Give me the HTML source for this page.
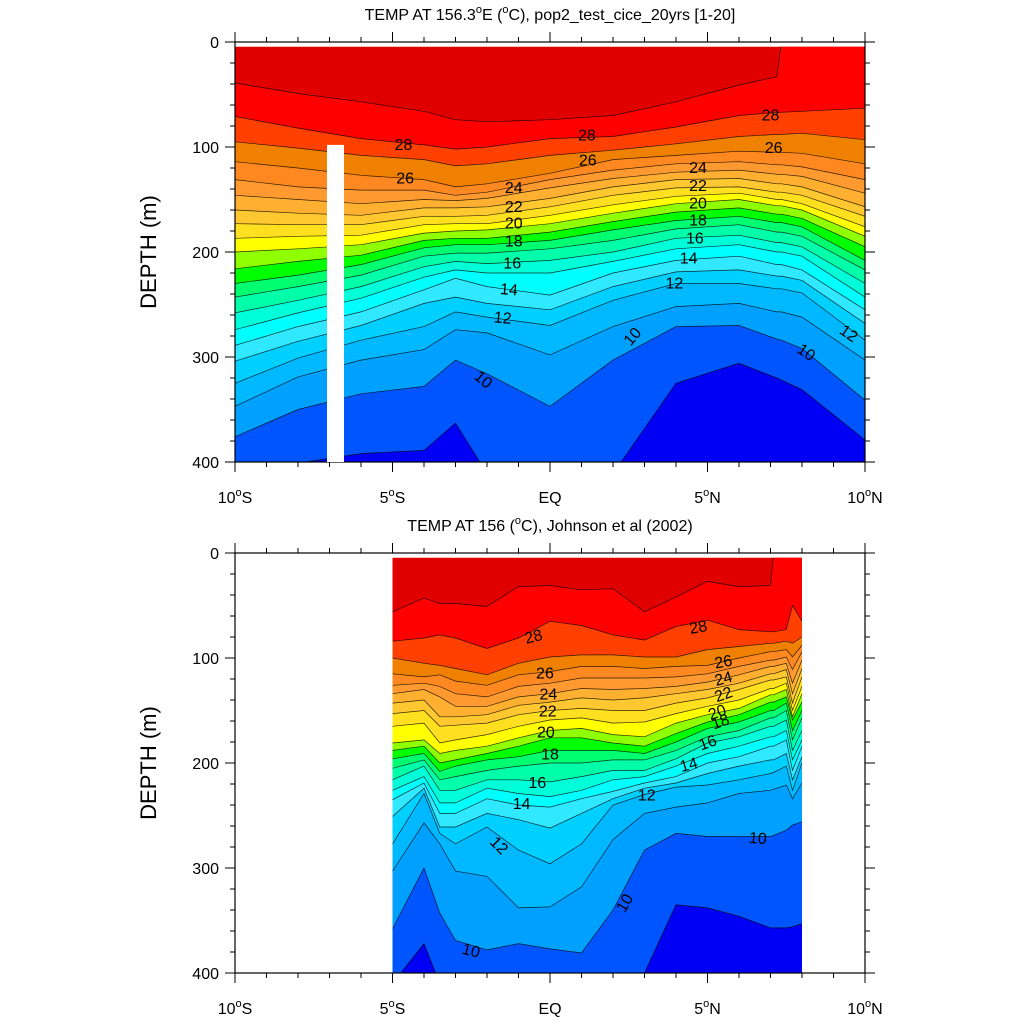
<!DOCTYPE html>
<html><head><meta charset="utf-8"><style>
html,body{margin:0;padding:0;background:#fff;}
svg{display:block;font-family:"Liberation Sans",Arial,sans-serif;}
</style></head><body>
<svg id="chart" width="1024" height="1024" viewBox="0 0 1024 1024" xmlns="http://www.w3.org/2000/svg">
<defs>
<clipPath id="clipTop"><rect id="clipTopRect" x="0" y="0" width="0" height="0"/></clipPath>
<clipPath id="clipBot"><rect id="clipBotRect" x="0" y="0" width="0" height="0"/></clipPath>
</defs>
<g id="layer"></g>
</svg>
<script>
// ---------- DATA ----------
const levels = [29,28,27,26,25,24,23,22,21,20,19,18,17,16,15,14,13,12,11,10,9];
const colorAbove29 = "#e00000";
const bandBelowColors = ["#ff0000","#ff4000","#f08000","#ff8820","#ff9a30","#ffb030","#ffc830","#ffe020","#ffff00","#90ff00","#00ff00","#00ff70","#00ffa8","#00ffd8","#00ffff","#30e8ff","#00d0ff","#00b8ff","#00a0ff","#0055ff","#0000f5"];

// top panel: isotherm depths (m) for levels 29..9 at each latitude
const topLats = [-10,-8,-6,-4,-3,-2,0,2,4,6,7.2,7.35,8,10];
const topM10 = [39,71,95,114,131,146,160,173,187,200,216,230,243,258,274,289,304,325,347,376,411];
const topM8  = [49,82,101,120,138,150,163,174,185,197,209,222,233,246,258,271,285,301,319,350,401];
const topM6  = [57,92,108,127,141,154,165,174,184,193,203,212,222,233,244,257,270,284,303,335,392];
const topM4  = [66,98,112,131,141,150,158,166,174,182,189,196,204,214,224,236,249,271,293,328,389];
const topM3  = [74,102,118,138,146,151,158,166,173,180,187,193,201,209,217,225,243,257,274,303,363];
const topM2  = [76,100,116,135,143,149,157,165,173,179,187,193,201,211,220,233,249,262,277,316,411];
const topEQ  = [74,92,108,125,131,139,149,157,165,173,181,189,197,208,220,241,255,270,298,347,411];
const topP2  = [70,90,103,112,122,130,138,146,155,163,171,179,189,200,209,220,233,246,271,303,411];
const topP4  = [57,81,97,108,116,124,131,139,147,154,162,170,178,187,197,208,219,230,252,271,325];
const topP6  = [41,70,90,104,114,122,130,138,144,150,158,166,174,184,193,204,217,230,249,270,306];
const topP72 = [33,67,88,105,117,126,135,143,150,156,164,172,181,191,200,212,223,235,257,283,320];
const topP735= [0,67,88,105,117,126,135,143,150,156,164,172,181,191,200,212,223,235,257,284,322];
const topP8  = [0,66,87,106,119,128,138,146,154,160,168,176,185,195,204,217,227,239,262,292,331];
const topP10 = [0,63,93,116,131,144,157,166,176,185,195,208,217,230,243,255,268,284,303,341,379];
const topCols = [topM10,topM8,topM6,topM4,topM3,topM2,topEQ,topP2,topP4,topP6,topP72,topP735,topP8,topP10];

// bottom panel (observations)
const botLats = [-5,-4,-3.5,-3,-2,-1,0,1,2,3,4,5,6,7,7.1,7.5,7.7,8];
const botM5  = [56,84,100,115,126,134,143,153,165,181,188,196,205,216,226,235,251,277,303,358,410];
const botM4  = [43,81,105,118,124,130,140,150,162,178,184,191,197,203,213,219,224,229,257,300,372];
const botM35 = [48,78,107,116,127,137,156,165,181,191,200,208,216,226,238,248,261,267,277,343,410];
const botM3  = [48,81,110,122,134,146,156,164,178,188,197,203,213,226,238,248,261,277,303,369,410];
const botM2  = [51,91,116,126,137,146,154,162,173,184,191,197,207,216,224,234,248,261,308,378,410];
const botM1  = [32,81,105,116,127,137,145,154,165,176,184,194,203,216,229,240,254,283,338,372,410];
const botEQ  = [31,65,99,113,124,134,142,150,159,169,176,188,200,218,232,242,262,296,337,377,410];
const botP1  = [35,69,97,108,119,129,138,148,157,167,176,188,200,213,226,234,248,277,318,381,410];
const botP2  = [34,78,97,108,119,130,140,150,162,173,181,188,197,207,216,227,234,240,273,340,410];
const botP3  = [56,83,99,110,119,129,138,150,161,175,184,191,197,207,213,219,224,230,248,283,400];
const botP4  = [42,70,99,108,118,127,134,143,153,162,172,180,188,196,203,213,219,223,242,267,335];
const botP5  = [27,64,92,107,115,123,130,138,146,154,161,167,175,181,191,200,210,221,238,270,338];
const botP6  = [32,73,89,100,108,116,124,130,140,148,154,161,169,175,184,194,203,216,229,270,346];
const botP7  = [31,75,86,94,102,108,115,121,129,135,142,150,157,165,175,184,197,210,226,270,357];
const botP71 = [0,75,86,94,102,108,115,121,129,135,142,150,157,165,175,184,197,209,225,269,357];
const botP75 = [0,73,84,92,99,105,111,118,124,130,137,143,150,159,169,178,191,203,221,264,357];
const botP77 = [0,50,86,99,111,124,134,143,150,156,159,169,178,188,197,207,216,226,234,259,356];
const botP8  = [0,65,80,88,94,102,110,118,127,134,142,150,157,169,178,184,194,200,219,256,353];
const botCols = [botM5,botM4,botM35,botM3,botM2,botM1,botEQ,botP1,botP2,botP3,botP4,botP5,botP6,botP7,botP71,botP75,botP77,botP8];

// contour labels: lat, depth, text, rotation
const topLabelLat = [-4.65,1.17,7.0,-4.6,1.2,7.1,-1.15,4.7,-1.15,4.7,-1.15,4.7,-1.15,4.7,-1.2,4.6,-1.3,4.4,-1.5,3.95,9.5,2.6,8.15,-2.1];
const topLabelDep = [97,88,69,129,112,100,138,119,156,136,172,153,189,169,210,186,235,205,262,229,277,280,295,321];
const topLabelTxt = ["28","28","28","26","26","26","24","24","22","22","20","20","18","18","16","16","14","14","12","12","12","10","10","10"];
const topLabelRot = [0,0,0,0,0,0,0,0,0,0,0,0,0,0,0,0,5,0,5,0,35,-50,35,40];
const botLabelLat = [-0.53,4.7,-0.16,5.5,-0.05,5.5,-0.07,5.5,-0.13,5.3,0,5.4,-0.4,5.0,-0.9,4.4,3.07,-1.6,6.6,2.35,-2.5];
const botLabelDep = [79,70,114,103,134,119,150,134,170,151,191,160,218,180,238,201,230,278,271,333,378];
const botLabelTxt = ["28","28","26","26","24","24","22","22","20","20","18","18","16","16","14","14","12","12","10","10","10"];
const botLabelRot = [-15,-10,0,-10,0,-15,0,-20,0,-20,0,-20,0,-20,0,-15,0,45,5,-60,15];

const yTicks = [0,100,200,300,400];
const xTickLats = [-10,-5,0,5,10];
const xTickNums = ["10","5","EQ","5","10"];
const xTickHemi = ["S","S","","N","N"];

// ---------- DRAW ----------
const NS = "http://www.w3.org/2000/svg";
const layer = document.getElementById("layer");
function mk(tag, attrs, parent){
  const e = document.createElementNS(NS, tag);
  for (const k in attrs) e.setAttribute(k, attrs[k]);
  (parent||layer).appendChild(e);
  return e;
}
const X0 = 235, X1 = 865;
function xS(lat){ return X0 + (lat + 10) * (X1 - X0) / 20; }

function panel(top, lats, cols, clipId, clipRectId, lLat, lDep, lTxt, lRot, title, prefix){
  const bottom = top + 420;
  function yS(d){ return top + d * 420 / 400; }
  const g = mk("g", {});
  
  
  const cr = document.getElementById(clipRectId);
  const cx0 = xS(lats[0]), cx1 = xS(lats[lats.length-1]);
  cr.setAttribute("x", cx0); cr.setAttribute("y", yS(4.5));
  cr.setAttribute("width", cx1 - cx0); cr.setAttribute("height", bottom - yS(4.5));
  const fg = mk("g", {"clip-path":"url(#"+clipId+")"}, g);
  
  
  const base = mk("rect", {x:cx0, y:top-10, width:cx1-cx0, height:440, fill:colorAbove29}, fg);
  
  
  for (let i = 0; i < levels.length; i++){
    let d = "";
    lats.forEach((la, j) => { d += (j ? "L" : "M") + xS(la).toFixed(1) + " " + yS(cols[j][i]).toFixed(1) + " "; });
    d += "L" + cx1 + " " + (bottom+20) + " L" + cx0 + " " + (bottom+20) + " Z";
    const p = mk("path", {d:d, fill:bandBelowColors[i], stroke:"none"}, fg);
    
    
  }
  for (let i = 0; i < levels.length; i++){
    let pts = lats.map((la, j) => xS(la).toFixed(1) + "," + yS(cols[j][i]).toFixed(1)).join(" ");
    const l = mk("polyline", {points:pts, fill:"none", stroke:"#000", "stroke-width":"0.7", "stroke-opacity":"0.8"}, fg);
    
    
  }
  for (let k = 0; k < lTxt.length; k++){
    const x = xS(lLat[k]), y = yS(lDep[k]);
    const t = mk("text", {x:x, y:y+6, "font-size":"16", "text-anchor":"middle", fill:"#000",
      transform:"rotate(" + lRot[k] + " " + x + " " + y + ")"}, fg);
    t.textContent = lTxt[k];
    
    
  }
  const fr = mk("rect", {x:X0, y:top, width:X1-X0, height:420, fill:"none", stroke:"#000", "stroke-width":"1.2"}, g);
  
  
  for (let d = 0; d <= 400; d += 20){
    const major = d % 100 === 0, len = major ? 10 : 5, y = yS(d);
    mk("line", {x1:X0-len, y1:y, x2:X0, y2:y, stroke:"#000", "stroke-width":"1"}, g);
    mk("line", {x1:X1, y1:y, x2:X1+len, y2:y, stroke:"#000", "stroke-width":"1"}, g);
  }
  yTicks.forEach(v => {
    const t = mk("text", {x:X0-16, y:yS(v)+6, "font-size":"16", "text-anchor":"end"}, g);
    t.textContent = v;
    
    
  });
  for (let la = -10; la <= 10; la += 1){
    const major = la % 5 === 0, len = major ? 10 : 5, x = xS(la);
    mk("line", {x1:x, y1:bottom, x2:x, y2:bottom+len, stroke:"#000", "stroke-width":"1"}, g);
    mk("line", {x1:x, y1:top-len, x2:x, y2:top, stroke:"#000", "stroke-width":"1"}, g);
  }
  xTickLats.forEach((la, k) => {
    const t = mk("text", {x:xS(la), y:bottom+41, "font-size":"16", "text-anchor":"middle"}, g);
    if (xTickHemi[k]) {
      t.innerHTML = xTickNums[k] + '<tspan font-size="11" dy="-7">o</tspan><tspan dy="7">' + xTickHemi[k] + '</tspan>';
    } else t.textContent = xTickNums[k];
    
    
  });
  const yt = mk("text", {x:0, y:0, "font-size":"22", "text-anchor":"middle",
    transform:"translate(156," + (top+210) + ") rotate(-90)"}, g);
  yt.textContent = "DEPTH (m)";
  
  
  const tt = mk("text", {x:550, y:top-22, "font-size":"16", "text-anchor":"middle"}, g);
  tt.innerHTML = title;
  
  
  return {g:g, yS:yS};
}

const topP = panel(42, topLats, topCols, "clipTop", "clipTopRect", topLabelLat, topLabelDep, topLabelTxt, topLabelRot,
  'TEMP AT 156.3<tspan font-size="11" dy="-7">o</tspan><tspan dy="7">E (</tspan><tspan font-size="11" dy="-7">o</tspan><tspan dy="7">C), pop2_test_cice_20yrs [1-20]</tspan>', "top");
const gap = mk("rect", {x:xS(-7.08), y:topP.yS(98), width:xS(-6.54)-xS(-7.08), height:topP.yS(400)-topP.yS(98), fill:"#fff"}, topP.g);



panel(553, botLats, botCols, "clipBot", "clipBotRect", botLabelLat, botLabelDep, botLabelTxt, botLabelRot,
  'TEMP AT 156 (<tspan font-size="11" dy="-7">o</tspan><tspan dy="7">C), Johnson et al (2002)</tspan>', "bottom");
</script>
</body></html>
